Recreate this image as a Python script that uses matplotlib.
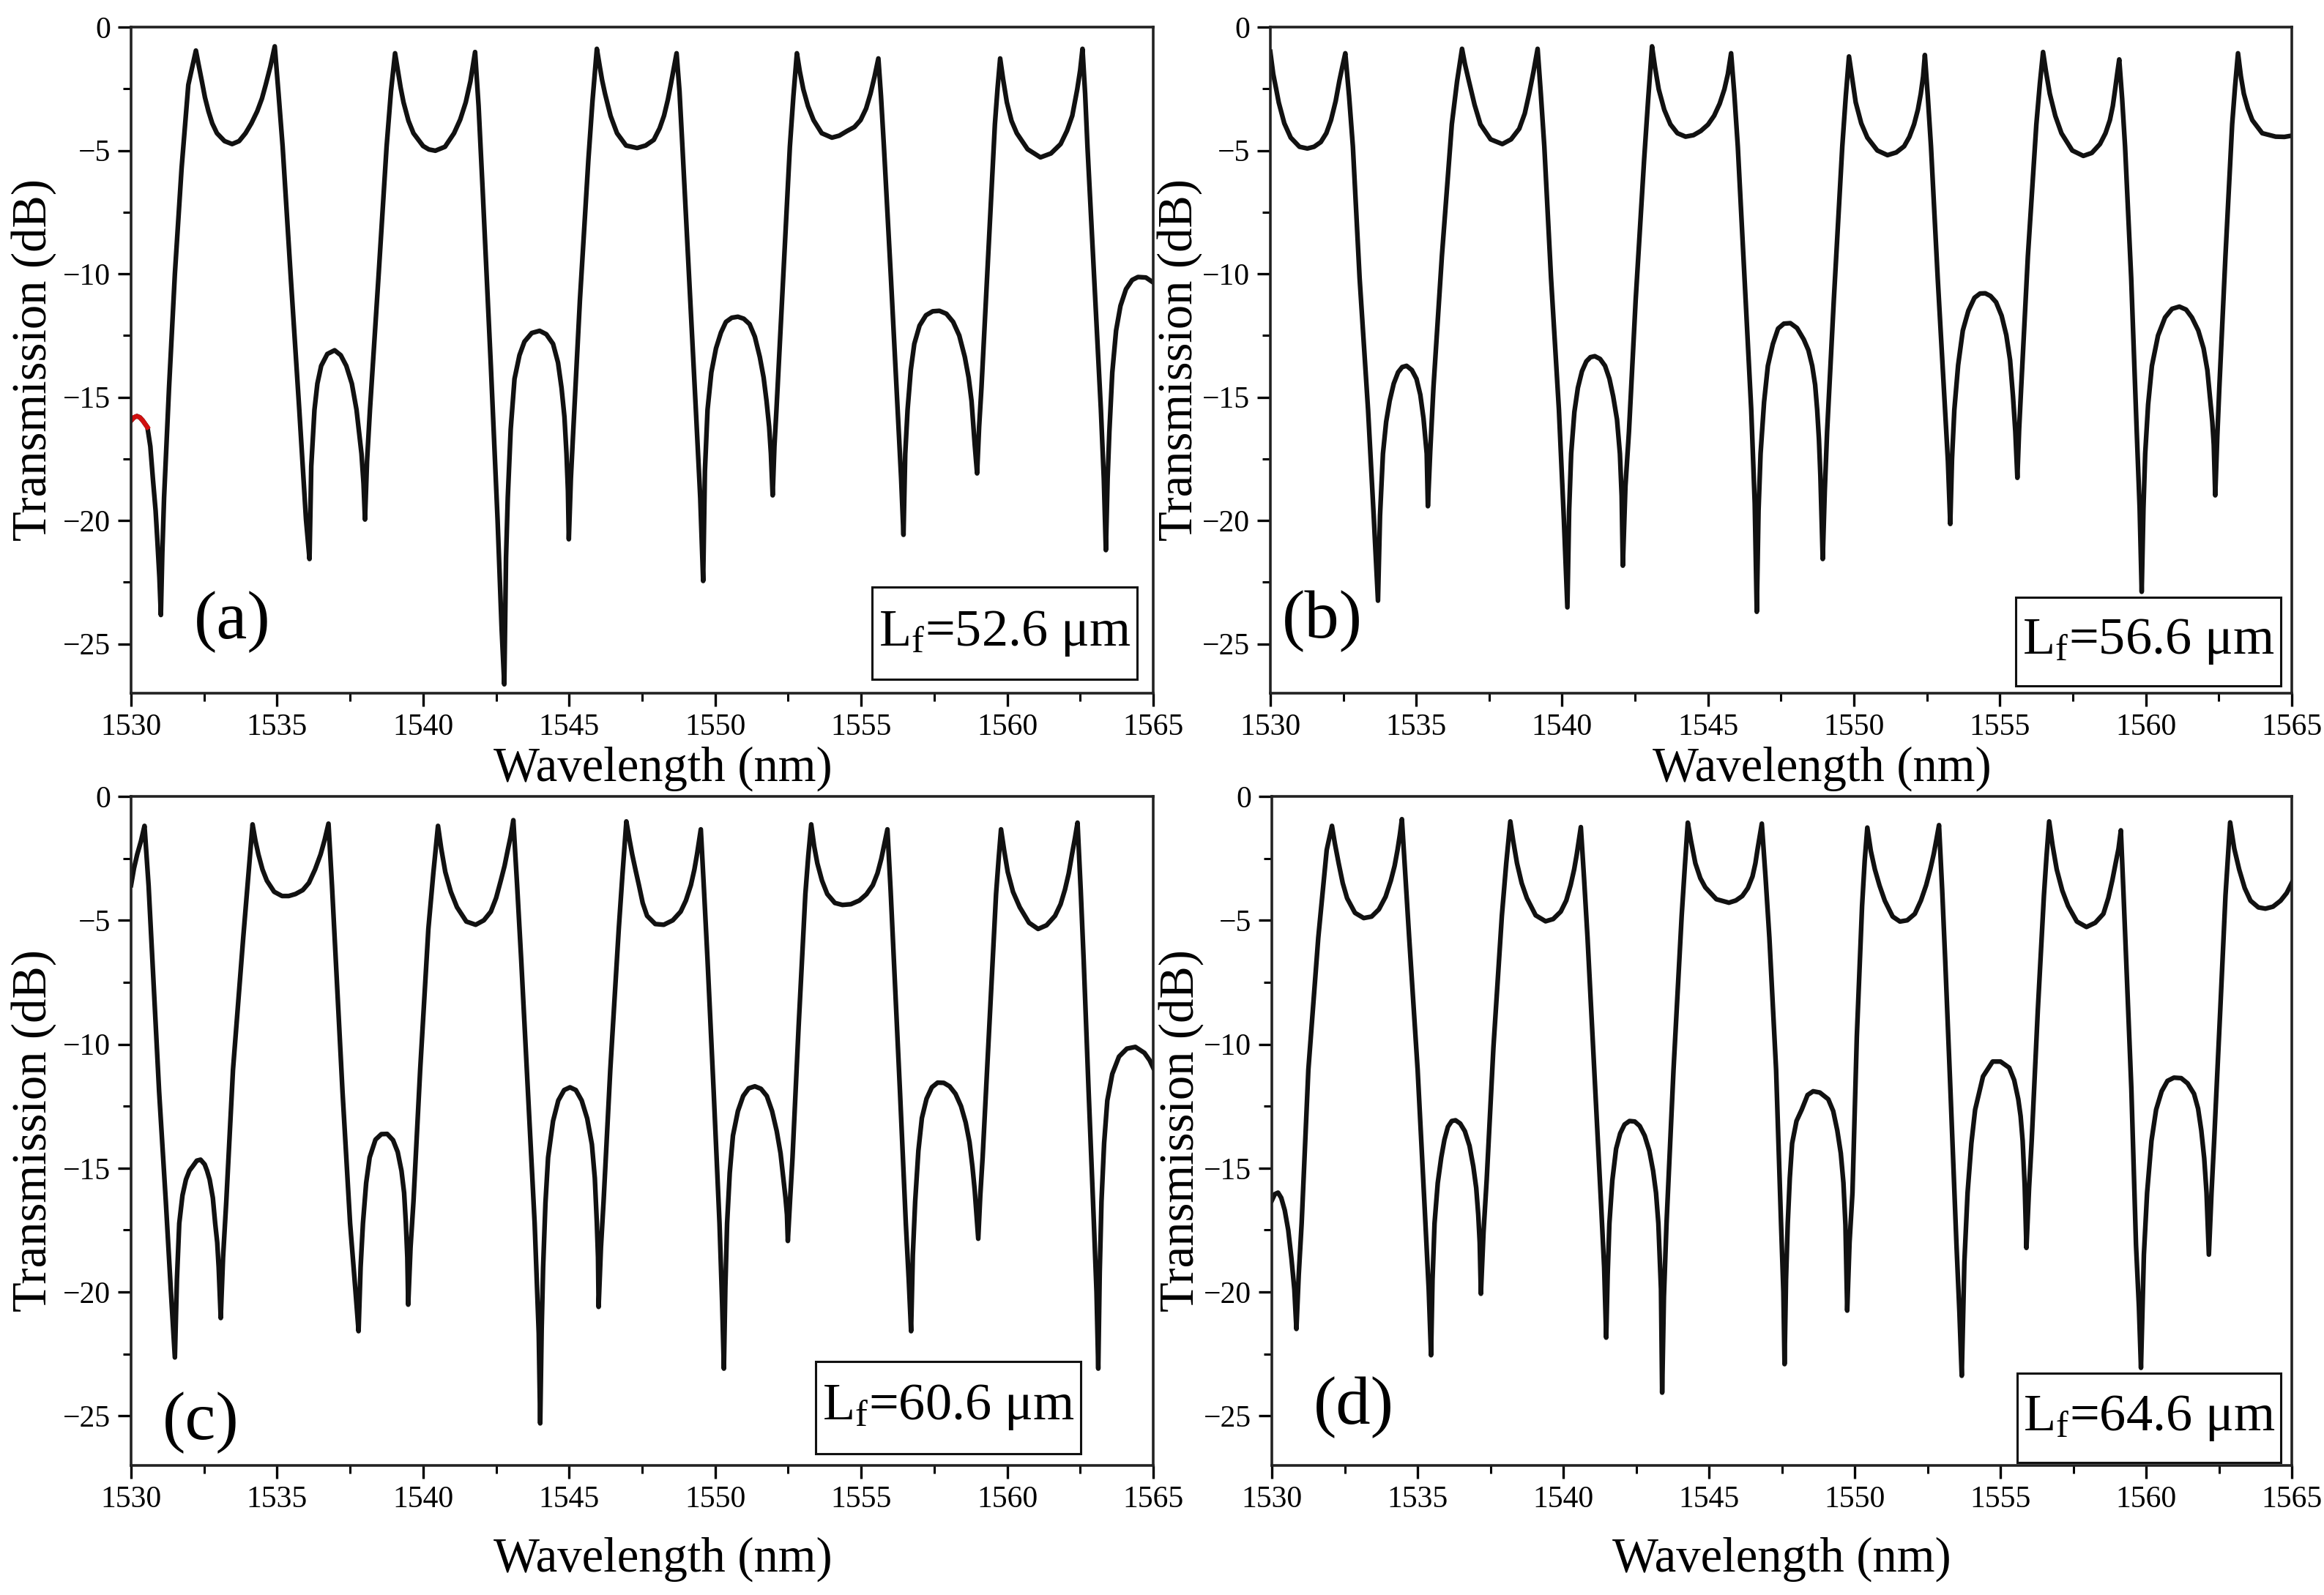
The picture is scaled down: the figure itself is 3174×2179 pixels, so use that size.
import matplotlib
matplotlib.use("Agg")
import matplotlib.pyplot as plt
from matplotlib.patches import Rectangle
from matplotlib.ticker import MultipleLocator

# Transmission spectra: (wavelength nm, transmission dB)
trace_a = [
    (1530.0, -15.95), (1530.1, -15.82), (1530.2, -15.77), (1530.3, -15.82),
    (1530.4, -15.95), (1530.56, -16.22), (1530.66, -17.0), (1530.75, -18.35),
    (1530.84, -19.6), (1530.9, -20.8), (1530.97, -22.3), (1531.02, -23.83),
    (1531.07, -21.3), (1531.13, -19.07), (1531.3, -14.62), (1531.5, -10.0),
    (1531.73, -5.72), (1531.96, -2.34), (1532.22, -0.95),
    (1532.3, -1.45), (1532.42, -2.17), (1532.53, -2.85), (1532.65, -3.41),
    (1532.78, -3.9), (1532.94, -4.3), (1533.2, -4.62), (1533.46, -4.74),
    (1533.7, -4.62), (1533.92, -4.3), (1534.12, -3.9), (1534.32, -3.41),
    (1534.48, -2.9), (1534.61, -2.34), (1534.77, -1.6), (1534.92, -0.78),
    (1535.05, -2.7), (1535.19, -4.84), (1535.47, -10.17), (1535.76, -15.51),
    (1535.99, -19.96), (1536.11, -21.56),
    (1536.17, -17.8), (1536.28, -15.51), (1536.38, -14.45), (1536.51, -13.73),
    (1536.72, -13.25), (1536.97, -13.1), (1537.18, -13.3), (1537.37, -13.73),
    (1537.56, -14.45), (1537.72, -15.51), (1537.89, -17.29), (1537.96, -18.5),
    (1538.01, -19.96),
    (1538.08, -17.6), (1538.18, -15.51), (1538.47, -10.17), (1538.75, -4.84),
    (1538.9, -2.6), (1539.04, -1.06),
    (1539.14, -1.8), (1539.23, -2.45), (1539.33, -3.05), (1539.5, -3.8),
    (1539.67, -4.3), (1540.0, -4.82), (1540.2, -4.96), (1540.42, -5.01),
    (1540.75, -4.85), (1541.06, -4.3), (1541.27, -3.75), (1541.46, -3.05),
    (1541.62, -2.2), (1541.78, -1.01),
    (1541.9, -3.2), (1542.04, -6.61), (1542.32, -13.73), (1542.55, -19.96),
    (1542.69, -24.4), (1542.78, -26.64),
    (1542.84, -21.5), (1542.9, -19.07), (1543.0, -16.3), (1543.13, -14.26),
    (1543.3, -13.3), (1543.47, -12.75), (1543.72, -12.4), (1543.99, -12.31),
    (1544.22, -12.45), (1544.45, -12.84), (1544.62, -13.6), (1544.74, -14.62),
    (1544.84, -15.8), (1544.91, -17.29), (1544.96, -18.8), (1544.99, -20.76),
    (1545.06, -18.3), (1545.14, -16.4), (1545.37, -11.06), (1545.66, -5.37),
    (1545.8, -3.0), (1545.95, -0.88),
    (1546.05, -1.6), (1546.13, -2.15), (1546.23, -2.7), (1546.42, -3.6),
    (1546.64, -4.3), (1546.95, -4.8), (1547.33, -4.9), (1547.62, -4.8),
    (1547.9, -4.57), (1548.1, -4.1), (1548.25, -3.59), (1548.38, -2.95),
    (1548.48, -2.34), (1548.58, -1.7), (1548.68, -1.06),
    (1548.78, -2.6), (1548.88, -4.84), (1549.11, -10.17), (1549.34, -15.51),
    (1549.49, -19.07), (1549.59, -22.45),
    (1549.65, -18.0), (1549.74, -15.51), (1549.87, -14.0), (1550.03, -13.02),
    (1550.2, -12.38), (1550.37, -11.95), (1550.57, -11.78), (1550.78, -11.74),
    (1550.98, -11.82), (1551.18, -12.04), (1551.36, -12.55), (1551.53, -13.37),
    (1551.66, -14.2), (1551.76, -15.15), (1551.85, -16.2), (1551.91, -17.29),
    (1551.97, -18.98),
    (1552.03, -17.0), (1552.1, -15.51), (1552.33, -10.17), (1552.56, -4.84),
    (1552.68, -2.8), (1552.8, -1.06),
    (1552.9, -1.8), (1553.02, -2.52), (1553.18, -3.2), (1553.37, -3.77),
    (1553.65, -4.3), (1554.0, -4.48), (1554.25, -4.4), (1554.52, -4.21),
    (1554.77, -4.05), (1554.98, -3.77), (1555.17, -3.3), (1555.32, -2.7),
    (1555.46, -2.0), (1555.59, -1.27),
    (1555.68, -2.8), (1555.78, -4.84), (1556.02, -10.17), (1556.25, -15.51),
    (1556.37, -18.3), (1556.45, -20.58),
    (1556.51, -17.3), (1556.59, -15.51), (1556.7, -13.9), (1556.82, -12.84),
    (1557.0, -12.1), (1557.22, -11.68), (1557.45, -11.52), (1557.68, -11.5),
    (1557.92, -11.62), (1558.15, -11.95), (1558.36, -12.5), (1558.55, -13.37),
    (1558.68, -14.2), (1558.78, -15.15), (1558.89, -16.93), (1558.97, -18.09),
    (1559.04, -16.2), (1559.12, -14.62), (1559.35, -9.28), (1559.58, -3.94),
    (1559.67, -2.5), (1559.76, -1.27),
    (1559.86, -2.1), (1559.99, -3.05), (1560.15, -3.8), (1560.33, -4.3),
    (1560.7, -4.95), (1561.14, -5.28), (1561.5, -5.12), (1561.83, -4.74),
    (1562.05, -4.2), (1562.23, -3.59), (1562.4, -2.52), (1562.5, -1.75),
    (1562.58, -0.88),
    (1562.67, -2.7), (1562.75, -4.84), (1562.98, -10.17), (1563.21, -15.51),
    (1563.31, -18.3), (1563.38, -21.2),
    (1563.44, -18.3), (1563.5, -16.4), (1563.6, -14.0), (1563.73, -12.3),
    (1563.88, -11.3), (1564.07, -10.62), (1564.28, -10.25), (1564.48, -10.13),
    (1564.75, -10.15), (1565.0, -10.35),
]

trace_b = [
    (1530.0, -1.0), (1530.1, -1.9), (1530.2, -2.5), (1530.29, -3.06),
    (1530.48, -3.9), (1530.7, -4.48), (1531.0, -4.85), (1531.27, -4.92),
    (1531.5, -4.85), (1531.73, -4.66), (1531.92, -4.3), (1532.08, -3.77),
    (1532.24, -3.0), (1532.37, -2.16), (1532.47, -1.6), (1532.57, -1.06),
    (1532.7, -2.8), (1532.83, -4.84), (1533.06, -10.17), (1533.35, -15.51),
    (1533.55, -19.96), (1533.69, -23.25),
    (1533.76, -19.8), (1533.86, -17.29), (1533.97, -16.0), (1534.09, -15.15),
    (1534.23, -14.45), (1534.38, -13.99), (1534.52, -13.78), (1534.67, -13.73),
    (1534.85, -13.9), (1535.01, -14.26), (1535.14, -14.9), (1535.25, -15.86),
    (1535.36, -17.29), (1535.4, -19.42),
    (1535.48, -17.2), (1535.59, -14.62), (1535.88, -9.28), (1536.22, -3.94),
    (1536.4, -2.2), (1536.57, -0.88),
    (1536.67, -1.5), (1536.8, -2.16), (1537.0, -3.15), (1537.2, -3.94),
    (1537.55, -4.55), (1537.95, -4.74), (1538.25, -4.55), (1538.53, -4.12),
    (1538.72, -3.5), (1538.87, -2.7), (1539.02, -1.8), (1539.16, -0.88),
    (1539.27, -2.7), (1539.39, -4.84), (1539.62, -10.17), (1539.89, -15.51),
    (1540.06, -19.96), (1540.18, -23.52),
    (1540.24, -19.6), (1540.31, -17.29), (1540.42, -15.6), (1540.54, -14.62),
    (1540.68, -13.95), (1540.83, -13.55), (1540.97, -13.38), (1541.12, -13.34),
    (1541.3, -13.45), (1541.47, -13.73), (1541.62, -14.25), (1541.75, -14.97),
    (1541.88, -15.9), (1541.98, -17.29), (1542.04, -19.0), (1542.08, -21.83),
    (1542.17, -18.6), (1542.29, -16.4), (1542.52, -11.06), (1542.81, -5.37),
    (1542.95, -2.9), (1543.08, -0.78),
    (1543.18, -1.6), (1543.31, -2.52), (1543.5, -3.35), (1543.71, -3.94),
    (1543.95, -4.3), (1544.23, -4.44), (1544.5, -4.38), (1544.75, -4.21),
    (1545.0, -3.95), (1545.21, -3.59), (1545.4, -3.1), (1545.56, -2.52),
    (1545.68, -1.9), (1545.79, -1.06),
    (1545.9, -2.7), (1546.02, -4.84), (1546.25, -10.17), (1546.48, -15.51),
    (1546.6, -19.3), (1546.67, -23.7),
    (1546.73, -19.6), (1546.8, -17.29), (1546.92, -15.2), (1547.05, -13.73),
    (1547.22, -12.85), (1547.4, -12.22), (1547.6, -12.02), (1547.82, -12.0),
    (1548.05, -12.2), (1548.28, -12.66), (1548.44, -13.1), (1548.57, -13.73),
    (1548.67, -14.5), (1548.74, -15.51), (1548.8, -16.7), (1548.85, -18.18),
    (1548.93, -21.56),
    (1549.0, -18.8), (1549.08, -16.4), (1549.31, -11.06), (1549.6, -4.84),
    (1549.72, -2.8), (1549.83, -1.19),
    (1549.93, -2.0), (1550.06, -3.05), (1550.25, -3.9), (1550.46, -4.48),
    (1550.8, -5.0), (1551.15, -5.19), (1551.45, -5.08), (1551.72, -4.83),
    (1551.9, -4.45), (1552.06, -3.94), (1552.19, -3.35), (1552.29, -2.7),
    (1552.37, -2.0), (1552.43, -1.13),
    (1552.53, -2.8), (1552.64, -4.84), (1552.87, -10.17), (1553.12, -15.51),
    (1553.22, -17.6), (1553.3, -20.14),
    (1553.36, -17.5), (1553.44, -15.51), (1553.57, -13.7), (1553.73, -12.3),
    (1553.92, -11.5), (1554.13, -10.97), (1554.32, -10.8), (1554.5, -10.79),
    (1554.68, -10.9), (1554.87, -11.15), (1555.06, -11.7), (1555.22, -12.48),
    (1555.35, -13.5), (1555.45, -14.97), (1555.53, -16.4), (1555.6, -18.27),
    (1555.66, -16.3), (1555.73, -14.62), (1555.96, -9.28), (1556.25, -3.94),
    (1556.37, -2.3), (1556.48, -1.01),
    (1556.58, -1.8), (1556.71, -2.7), (1556.9, -3.6), (1557.11, -4.3),
    (1557.48, -5.0), (1557.86, -5.22), (1558.15, -5.1), (1558.43, -4.74),
    (1558.62, -4.3), (1558.77, -3.77), (1558.87, -3.2), (1558.95, -2.52),
    (1559.02, -1.9), (1559.09, -1.31),
    (1559.19, -2.9), (1559.29, -4.84), (1559.5, -10.17), (1559.69, -16.4),
    (1559.79, -19.5), (1559.86, -22.89),
    (1559.92, -19.5), (1559.98, -17.29), (1560.08, -15.3), (1560.21, -13.73),
    (1560.42, -12.5), (1560.66, -11.77), (1560.9, -11.42), (1561.15, -11.33),
    (1561.38, -11.45), (1561.58, -11.77), (1561.8, -12.3), (1561.98, -13.02),
    (1562.11, -13.9), (1562.21, -15.15), (1562.28, -16.0), (1562.33, -16.93),
    (1562.38, -18.98),
    (1562.45, -16.6), (1562.52, -14.62), (1562.73, -9.28), (1562.96, -3.94),
    (1563.06, -2.4), (1563.16, -1.06),
    (1563.26, -2.0), (1563.36, -2.7), (1563.5, -3.3), (1563.65, -3.77),
    (1563.99, -4.3), (1564.45, -4.44), (1564.75, -4.45), (1565.0, -4.4),
]

trace_c = [
    (1530.0, -3.58), (1530.1, -2.9), (1530.21, -2.34), (1530.34, -1.8),
    (1530.46, -1.19),
    (1530.6, -3.6), (1530.73, -6.6), (1530.96, -11.91), (1531.19, -16.35),
    (1531.36, -19.89), (1531.5, -22.64),
    (1531.57, -19.5), (1531.65, -17.23), (1531.76, -16.1), (1531.88, -15.46),
    (1532.0, -15.1), (1532.11, -14.93), (1532.25, -14.7), (1532.38, -14.66),
    (1532.52, -14.85), (1532.6, -15.1), (1532.69, -15.46), (1532.8, -16.2),
    (1532.88, -17.23), (1532.95, -18.0), (1533.0, -19.0), (1533.07, -21.05),
    (1533.15, -18.6), (1533.26, -16.35), (1533.49, -11.03), (1533.84, -5.71),
    (1534.0, -3.4), (1534.16, -1.13),
    (1534.26, -1.8), (1534.36, -2.34), (1534.5, -2.95), (1534.65, -3.4),
    (1534.9, -3.85), (1535.17, -4.02), (1535.4, -4.02), (1535.63, -3.94),
    (1535.88, -3.78), (1536.09, -3.49), (1536.3, -2.95), (1536.49, -2.34),
    (1536.63, -1.75), (1536.76, -1.1),
    (1536.88, -3.6), (1537.01, -6.6), (1537.24, -11.91), (1537.5, -17.23),
    (1537.68, -19.89), (1537.79, -21.58),
    (1537.86, -19.0), (1537.94, -17.23), (1538.05, -15.6), (1538.17, -14.57),
    (1538.37, -13.85), (1538.57, -13.63), (1538.77, -13.62), (1538.97, -13.87),
    (1539.13, -14.35), (1539.26, -15.11), (1539.35, -16.0), (1539.41, -17.23),
    (1539.46, -18.6), (1539.49, -20.51),
    (1539.57, -18.2), (1539.67, -16.35), (1539.9, -11.03), (1540.18, -5.35),
    (1540.35, -3.1), (1540.51, -1.19),
    (1540.62, -2.1), (1540.76, -3.05), (1540.95, -3.85), (1541.16, -4.47),
    (1541.48, -5.05), (1541.8, -5.18), (1542.08, -5.0), (1542.32, -4.65),
    (1542.5, -4.1), (1542.66, -3.4), (1542.79, -2.8), (1542.9, -2.16),
    (1543.0, -1.6), (1543.09, -0.96),
    (1543.22, -3.6), (1543.36, -6.6), (1543.59, -11.91), (1543.82, -17.23),
    (1543.96, -21.67), (1544.01, -25.3),
    (1544.06, -21.5), (1544.11, -19.0), (1544.19, -16.4), (1544.28, -14.57),
    (1544.45, -13.1), (1544.63, -12.27), (1544.83, -11.85), (1545.03, -11.74),
    (1545.23, -11.85), (1545.43, -12.27), (1545.62, -13.0), (1545.78, -14.04),
    (1545.88, -15.4), (1545.95, -17.23), (1545.99, -18.6), (1546.01, -20.6),
    (1546.09, -18.2), (1546.18, -16.35), (1546.41, -11.03), (1546.7, -5.35),
    (1546.83, -3.1), (1546.96, -1.01),
    (1547.06, -1.7), (1547.16, -2.34), (1547.28, -3.0), (1547.39, -3.58),
    (1547.52, -4.3), (1547.67, -4.82), (1547.95, -5.15), (1548.24, -5.18),
    (1548.55, -5.0), (1548.82, -4.65), (1549.0, -4.2), (1549.17, -3.58),
    (1549.29, -2.95), (1549.38, -2.34), (1549.45, -1.8), (1549.51, -1.33),
    (1549.62, -3.8), (1549.74, -6.6), (1549.95, -11.91), (1550.15, -17.23),
    (1550.24, -20.43), (1550.3, -23.09),
    (1550.35, -19.8), (1550.41, -17.23), (1550.5, -15.2), (1550.61, -13.69),
    (1550.78, -12.7), (1550.96, -12.09), (1551.15, -11.78), (1551.36, -11.7),
    (1551.57, -11.8), (1551.77, -12.09), (1551.95, -12.7), (1552.11, -13.51),
    (1552.24, -14.4), (1552.34, -15.46), (1552.41, -16.2), (1552.46, -16.88),
    (1552.49, -17.94),
    (1552.57, -16.2), (1552.65, -14.57), (1552.86, -9.26), (1553.09, -3.94),
    (1553.19, -2.4), (1553.29, -1.13),
    (1553.39, -2.0), (1553.5, -2.7), (1553.66, -3.4), (1553.84, -3.94),
    (1554.1, -4.3), (1554.36, -4.38), (1554.65, -4.35), (1554.94, -4.2),
    (1555.18, -3.95), (1555.4, -3.58), (1555.56, -3.1), (1555.69, -2.52),
    (1555.8, -1.9), (1555.9, -1.33),
    (1556.01, -3.8), (1556.12, -6.6), (1556.33, -11.91), (1556.53, -17.23),
    (1556.63, -19.5), (1556.71, -21.58),
    (1556.77, -18.5), (1556.85, -16.35), (1556.96, -14.3), (1557.08, -12.98),
    (1557.24, -12.2), (1557.42, -11.74), (1557.62, -11.55), (1557.83, -11.56),
    (1558.03, -11.7), (1558.23, -12.0), (1558.42, -12.5), (1558.58, -13.16),
    (1558.71, -13.95), (1558.81, -14.93), (1558.89, -15.9), (1558.95, -16.88),
    (1559.01, -17.85),
    (1559.08, -16.1), (1559.16, -14.57), (1559.39, -9.26), (1559.62, -3.94),
    (1559.71, -2.5), (1559.79, -1.33),
    (1559.9, -2.2), (1560.02, -3.05), (1560.2, -3.85), (1560.43, -4.47),
    (1560.75, -5.1), (1561.06, -5.35), (1561.35, -5.2), (1561.64, -4.82),
    (1561.83, -4.35), (1561.98, -3.76), (1562.11, -3.1), (1562.22, -2.34),
    (1562.32, -1.7), (1562.41, -1.06),
    (1562.52, -3.8), (1562.62, -6.6), (1562.79, -11.91), (1562.97, -17.23),
    (1563.06, -20.0), (1563.12, -23.09),
    (1563.17, -19.2), (1563.23, -16.35), (1563.32, -14.0), (1563.43, -12.27),
    (1563.6, -11.2), (1563.83, -10.5), (1564.1, -10.18), (1564.39, -10.11),
    (1564.7, -10.35), (1564.88, -10.65), (1565.0, -10.95),
]

trace_d = [
    (1530.0, -16.3), (1530.1, -16.05), (1530.21, -15.99), (1530.32, -16.2),
    (1530.44, -16.7), (1530.56, -17.5), (1530.67, -18.65), (1530.77, -19.9),
    (1530.84, -21.49),
    (1530.92, -19.3), (1531.02, -17.23), (1531.25, -11.03), (1531.59, -5.71),
    (1531.88, -2.16), (1532.06, -1.19),
    (1532.16, -1.9), (1532.29, -2.7), (1532.43, -3.5), (1532.58, -4.11),
    (1532.85, -4.7), (1533.15, -4.91), (1533.42, -4.85), (1533.67, -4.56),
    (1533.9, -4.05), (1534.08, -3.4), (1534.21, -2.8), (1534.31, -2.16),
    (1534.39, -1.55), (1534.46, -0.92),
    (1534.58, -3.2), (1534.71, -5.71), (1535.0, -11.03), (1535.23, -16.35),
    (1535.38, -19.89), (1535.46, -22.55),
    (1535.51, -19.5), (1535.58, -17.23), (1535.69, -15.6), (1535.81, -14.57),
    (1535.92, -13.85), (1536.04, -13.33), (1536.17, -13.1), (1536.3, -13.07),
    (1536.46, -13.2), (1536.62, -13.51), (1536.78, -14.1), (1536.91, -14.93),
    (1537.01, -15.8), (1537.08, -16.88), (1537.13, -18.0), (1537.17, -20.07),
    (1537.26, -17.6), (1537.37, -15.46), (1537.6, -10.14), (1537.89, -4.82),
    (1538.04, -2.7), (1538.18, -1.01),
    (1538.28, -1.8), (1538.41, -2.7), (1538.57, -3.5), (1538.75, -4.11),
    (1539.05, -4.8), (1539.39, -5.04), (1539.65, -4.95), (1539.91, -4.65),
    (1540.1, -4.2), (1540.25, -3.58), (1540.37, -2.95), (1540.46, -2.34),
    (1540.53, -1.8), (1540.6, -1.24),
    (1540.71, -3.3), (1540.83, -5.71), (1541.06, -11.03), (1541.29, -16.35),
    (1541.4, -19.0), (1541.47, -21.84),
    (1541.52, -19.3), (1541.58, -17.23), (1541.68, -15.5), (1541.81, -14.22),
    (1541.95, -13.6), (1542.1, -13.24), (1542.27, -13.1), (1542.45, -13.12),
    (1542.62, -13.3), (1542.79, -13.69), (1542.95, -14.3), (1543.08, -15.11),
    (1543.18, -16.0), (1543.26, -17.23), (1543.35, -19.89), (1543.39, -24.06),
    (1543.45, -20.2), (1543.54, -17.23), (1543.78, -11.03), (1544.06, -4.82),
    (1544.17, -2.8), (1544.27, -1.06),
    (1544.38, -1.8), (1544.53, -2.7), (1544.7, -3.3), (1544.87, -3.67),
    (1545.25, -4.15), (1545.68, -4.29), (1545.92, -4.2), (1546.14, -4.02),
    (1546.33, -3.7), (1546.49, -3.23), (1546.59, -2.7), (1546.66, -2.16),
    (1546.74, -1.6), (1546.81, -1.1),
    (1546.94, -3.3), (1547.07, -5.71), (1547.3, -11.03), (1547.47, -17.23),
    (1547.55, -20.0), (1547.59, -22.91),
    (1547.64, -19.5), (1547.7, -17.23), (1547.77, -15.4), (1547.85, -14.0),
    (1548.0, -13.1), (1548.18, -12.64), (1548.38, -12.05), (1548.57, -11.9),
    (1548.8, -11.95), (1549.09, -12.22), (1549.26, -12.7), (1549.4, -13.48),
    (1549.52, -14.4), (1549.61, -15.59), (1549.68, -17.3), (1549.74, -20.75),
    (1549.82, -18.0), (1549.92, -16.0), (1550.07, -9.69), (1550.25, -4.42),
    (1550.34, -2.6), (1550.43, -1.26),
    (1550.55, -2.2), (1550.69, -2.95), (1550.85, -3.6), (1551.03, -4.21),
    (1551.3, -4.85), (1551.55, -5.05), (1551.8, -5.0), (1552.06, -4.74),
    (1552.27, -4.2), (1552.45, -3.58), (1552.59, -2.95), (1552.71, -2.32),
    (1552.8, -1.75), (1552.89, -1.16),
    (1553.0, -3.8), (1553.1, -6.53), (1553.28, -11.79), (1553.49, -18.11),
    (1553.59, -20.8), (1553.67, -23.38),
    (1553.76, -18.8), (1553.87, -16.0), (1554.0, -14.0), (1554.13, -12.64),
    (1554.4, -11.3), (1554.73, -10.7), (1555.0, -10.7), (1555.3, -10.95),
    (1555.47, -11.45), (1555.61, -12.22), (1555.69, -12.9), (1555.76, -13.9),
    (1555.83, -15.7), (1555.89, -18.22),
    (1555.98, -15.8), (1556.07, -13.9), (1556.28, -8.64), (1556.49, -4.0),
    (1556.58, -2.4), (1556.67, -1.01),
    (1556.79, -2.0), (1556.93, -2.95), (1557.12, -3.8), (1557.32, -4.42),
    (1557.62, -5.05), (1557.95, -5.27), (1558.25, -5.1), (1558.53, -4.74),
    (1558.7, -4.1), (1558.84, -3.37), (1558.95, -2.7), (1559.05, -2.11),
    (1559.13, -1.37),
    (1559.22, -3.9), (1559.31, -6.53), (1559.49, -11.79), (1559.65, -18.11),
    (1559.75, -20.6), (1559.82, -23.06),
    (1559.92, -18.5), (1560.03, -16.0), (1560.18, -13.9), (1560.34, -12.64),
    (1560.53, -11.9), (1560.73, -11.48), (1560.95, -11.35), (1561.2, -11.37),
    (1561.42, -11.58), (1561.64, -12.0), (1561.78, -12.6), (1561.89, -13.48),
    (1561.99, -14.6), (1562.07, -16.0), (1562.15, -18.49),
    (1562.24, -16.0), (1562.33, -13.9), (1562.54, -8.64), (1562.72, -4.0),
    (1562.8, -2.5), (1562.88, -1.05),
    (1563.02, -2.1), (1563.19, -2.95), (1563.38, -3.7), (1563.58, -4.21),
    (1563.85, -4.48), (1564.09, -4.53), (1564.35, -4.45), (1564.61, -4.21),
    (1564.82, -3.9), (1565.0, -3.48),
]

panel_tags = ['(a)', '(b)', '(c)', '(d)']
fiber_lengths = ['52.6', '56.6', '60.6', '64.6']
red_end_a = 1530.56   # short red piece at the start of panel (a)

plt.rcParams['font.family'] = ['Liberation Serif', 'DejaVu Serif']
plt.rcParams['mathtext.fontset'] = 'custom'
plt.rcParams['mathtext.rm'] = 'Liberation Serif'
plt.rcParams['mathtext.it'] = 'Liberation Serif:italic'

fig = plt.figure(figsize=(15.87, 10.895), dpi=200)

axes_pos = [
    [0.0564, 0.5654, 0.4398, 0.4176],
    [0.5466, 0.5654, 0.4395, 0.4176],
    [0.0564, 0.0812, 0.4398, 0.4195],
    [0.5473, 0.0812, 0.4389, 0.4195],
]
tag_pos = [(0.099, 0.107), (0.051, 0.108), (0.068, 0.064), (0.080, 0.087)]
box_pos = [(0.725, 0.021, 0.259, 0.138), (0.730, 0.011, 0.259, 0.133),
           (0.670, 0.018, 0.259, 0.137), (0.731, 0.004, 0.258, 0.134)]
ylabel_x = [-0.073, -0.0667, -0.073, -0.0667]
xlabel_pos = [(0.52, -0.080), (0.54, -0.080), (0.52, -0.107), (0.50, -0.107)]

traces = [trace_a, trace_b, trace_c, trace_d]

for i, tr in enumerate(traces):
    ax = fig.add_axes(axes_pos[i])
    wl = [p[0] for p in tr]
    db = [p[1] for p in tr]
    ax.plot(wl, db, color='#111111', lw=2.3, solid_joinstyle='round')
    if i == 0:
        wl_r = [w for w in wl if w <= red_end_a]
        ax.plot(wl_r, db[:len(wl_r)], color='#d01010', lw=2.3)

    ax.set_xlim(1530, 1565)
    ax.set_ylim(-27, 0)
    ax.xaxis.set_major_locator(MultipleLocator(5))
    ax.xaxis.set_minor_locator(MultipleLocator(2.5))
    ax.yaxis.set_major_locator(MultipleLocator(5))
    ax.yaxis.set_minor_locator(MultipleLocator(2.5))
    ax.tick_params(which='major', direction='out', length=6.5, width=1.2,
                   labelsize=15, pad=3.5, top=False, right=False)
    ax.tick_params(which='minor', direction='out', length=4, width=1.1,
                   top=False, right=False)
    for s in ax.spines.values():
        s.set_linewidth(1.3)
        s.set_color('#222222')

    ax.set_xlabel('Wavelength (nm)', fontsize=24)
    ax.set_ylabel('Transmission (dB)', fontsize=24)
    ax.xaxis.set_label_coords(*xlabel_pos[i])
    ax.yaxis.set_label_coords(ylabel_x[i], 0.5)

    ax.text(tag_pos[i][0], tag_pos[i][1], panel_tags[i], transform=ax.transAxes,
            ha='center', va='center', fontsize=34)

    bx, by, bw, bh = box_pos[i]
    ax.add_patch(Rectangle((bx, by), bw, bh, transform=ax.transAxes,
                           fill=False, lw=1.1, ec='#111111'))
    ax.text(bx + bw / 2, by + bh / 2,
            r'L$_{\mathrm{f}}$=' + fiber_lengths[i] + ' \u03bcm',
            transform=ax.transAxes, ha='center', va='center', fontsize=26)

fig.savefig('out.png', dpi=200)
